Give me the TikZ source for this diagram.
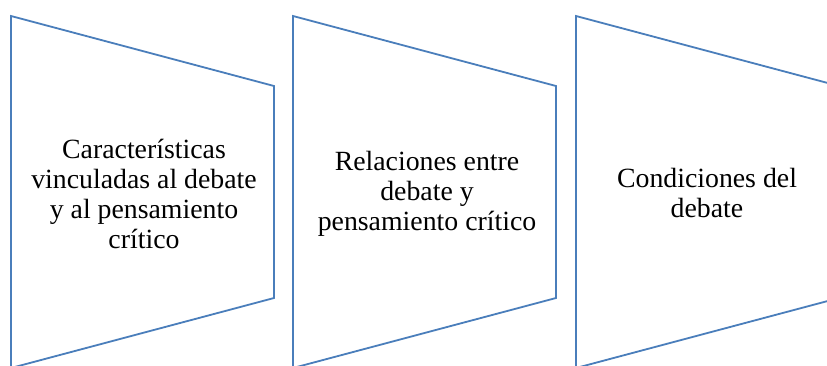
\documentclass[tikz,border=0pt]{standalone}
\usepackage{fontspec}
\setmainfont{Liberation Serif}
\definecolor{shapeblue}{RGB}{74,126,187}
\begin{document}
\begin{tikzpicture}[x=1pt,y=-1pt,
  chev/.style={draw=shapeblue, line width=1.8pt, line join=miter},
  lbl/.style={align=center, font=\fontsize{27.8}{30}\selectfont, inner sep=0pt}]
\useasboundingbox (0,0) rectangle (827,365);
\clip (0,0) rectangle (827,365);
\foreach \i/\x in {1/11,2/293,3/576}{
  \draw[chev] (\x,16) -- (\x+263,86) -- (\x+263,298) -- (\x,368) -- cycle;
}
\node[lbl] (t1) at (144,194) {Características\\vinculadas al debate\\y al pensamiento\\crítico};
\node[lbl] (t2) at (427,194) {Relaciones entre\\debate y\\pensamiento crítico};
\node[lbl] (t3) at (707,193) {Condiciones del\\debate};
\end{tikzpicture}
\end{document}
